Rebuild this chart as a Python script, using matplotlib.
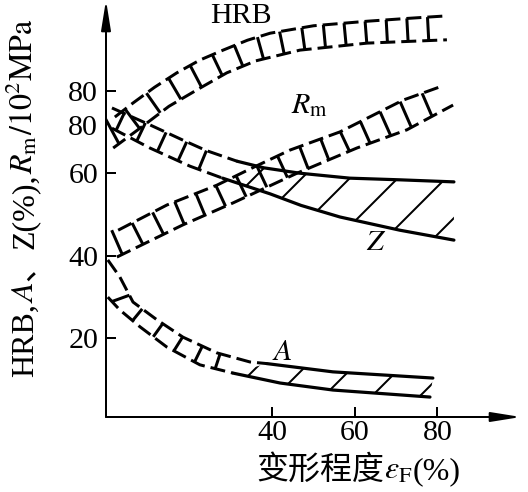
import numpy as np
import matplotlib
matplotlib.use('Agg')
import matplotlib.pyplot as plt

plt.rcParams['font.family'] = ['Liberation Serif', 'Noto Sans CJK SC']
plt.rcParams['mathtext.fontset'] = 'stix'
plt.rcParams['hatch.linewidth'] = 1.0

# band edges (x = deformation %, y = value on left axis)
hrb_up_x = [1.9, 6.3, 11.5, 16.9, 22.5, 28.1, 34.0, 39.5, 50.0, 63.0, 73.0, 82.3]
hrb_up_y = [73.6, 77.0, 80.8, 84.3, 87.4, 89.8, 92.2, 93.9, 95.7, 96.8, 97.5, 98.1]
hrb_lo_x = [1.5, 8.0, 15.0, 22.5, 29.0, 36.0, 46.7, 63.0, 82.3]
hrb_lo_y = [66.1, 70.9, 76.2, 80.6, 84.3, 87.2, 89.8, 91.5, 92.3]

z_up_x = [1.2, 10.4, 18.4, 24.0, 31.5, 38.0, 46.7, 58.8, 70.9, 84.0]
z_up_y = [75.8, 71.7, 68.0, 65.5, 62.9, 61.3, 60.0, 58.8, 58.4, 57.9]
z_lo_x = [1.2, 10.4, 20.1, 28.0, 39.5, 47.0, 56.4, 70.9, 84.0]
z_lo_y = [70.9, 66.1, 61.7, 58.8, 55.0, 52.2, 49.4, 46.2, 43.8]

rm_up_x = [2.7, 14.5, 26.6, 35.0, 44.3, 56.4, 71.7, 80.6]
rm_up_y = [46.2, 52.3, 57.1, 61.2, 65.6, 70.0, 77.7, 80.9]
rm_lo_x = [2.4, 18.4, 30.5, 46.0, 60.5, 72.6, 83.8]
rm_lo_y = [39.7, 47.5, 52.8, 60.0, 66.1, 70.5, 76.5]

a_up_x = [0.2, 3.1, 6.3, 12.1, 18.4, 26.6, 34.6, 38.7, 54.7, 78.9]
a_up_y = [39.0, 34.9, 28.8, 24.5, 20.3, 16.5, 14.3, 13.9, 11.9, 10.4]
a_lo_x = [0.2, 3.1, 8.0, 14.5, 22.5, 30.5, 41.9, 54.7, 78.2]
a_lo_y = [30.0, 26.9, 22.8, 17.9, 13.6, 11.6, 9.2, 7.5, 5.8]

# where the measured (solid) part of a band starts: (upper, lower)
z_solid = (31.5, 28.0)
a_solid = (38.7, 30.5)

x_ticks = [40, 60, 80]
y_ticks = [20, 40, 60, 71.7, 80]
y_ticklabels = ['20', '40', '60', '80', '80']

W, H = 528, 492
fig = plt.figure(figsize=(W / 144, H / 144), dpi=144)
ax = fig.add_axes([106 / W, 75 / H, 415 / W, 417 / H])
ax.set_xlim(-0.24, 100.24)
ax.set_ylim(0.97, 101.94)
for s in ax.spines.values():
    s.set_visible(False)

DASH = (0, (5, 2))


def edge(ax, x, y, solid_from):
    x = np.asarray(x)
    y = np.asarray(y)
    d = x <= solid_from
    ax.plot(x[d], y[d], color='k', lw=1.5, ls=DASH)
    s = x >= solid_from
    if s.sum() > 1:
        ax.plot(x[s], y[s], color='k', lw=1.6, solid_capstyle='round')


def rungs(ax, ux, uy, lx, ly, x0, x1, step=5.0):
    for x in np.arange(x0, x1 + 0.01, step):
        yl = np.interp(x, lx, ly)
        yu = np.interp(x, ux, uy)
        m = (np.interp(x + 1, ux, uy) + np.interp(x + 1, lx, ly)
             - np.interp(x - 1, ux, uy) - np.interp(x - 1, lx, ly)) / 4
        dx = -(yu - yl) * m / (1 + m * m)
        ax.plot([x, x + dx], [yl, np.interp(x + dx, ux, uy)],
                color='k', lw=1.5, solid_capstyle='butt')


def band(ax, ux, uy, lx, ly, solid=(np.inf, np.inf)):
    edge(ax, ux, uy, solid[0])
    edge(ax, lx, ly, solid[1])
    x0 = max(ux[0], lx[0]) + 1.0
    x1 = min(min(ux[-1], lx[-1]), min(solid) - 2)
    rungs(ax, ux, uy, lx, ly, x0, x1)
    if np.isfinite(solid[0]):
        sux = [v for v in ux if v >= solid[0]]
        suy = [b for v, b in zip(ux, uy) if v >= solid[0]]
        slx = [v for v in lx if v >= solid[1]]
        sly = [b for v, b in zip(lx, ly) if v >= solid[1]]
        ax.fill(sux + slx[::-1], suy + sly[::-1], facecolor='none',
                edgecolor='k', hatch='/', lw=0)


band(ax, hrb_up_x, hrb_up_y, hrb_lo_x, hrb_lo_y)
band(ax, rm_up_x, rm_up_y, rm_lo_x, rm_lo_y)
band(ax, z_up_x, z_up_y, z_lo_x, z_lo_y, z_solid)
band(ax, a_up_x, a_up_y, a_lo_x, a_lo_y, a_solid)

# curve names
ax.text(24.9, 96.4, 'HRB', fontsize=15, ha='left', va='baseline')
ax.text(44.6, 74.6, r'$R_{\mathrm{m}}$', fontsize=15, ha='left', va='baseline')
ax.text(62.7, 41.4, r'$Z$', fontsize=15, ha='left', va='baseline')
ax.text(40.0, 14.8, r'$A$', fontsize=15, ha='left', va='baseline')

# axes with arrows
arrow = dict(arrowstyle='-|>,head_length=1.25,head_width=0.2', color='k',
             lw=1.0, shrinkA=0, shrinkB=0)
ax.annotate('', xy=(0, 1), xytext=(0, 0), xycoords='axes fraction',
            arrowprops=arrow, annotation_clip=False)
ax.annotate('', xy=(1, 0), xytext=(0, 0), xycoords='axes fraction',
            arrowprops=arrow, annotation_clip=False)

ax.set_xticks(x_ticks, [str(v) for v in x_ticks])
ax.set_yticks(y_ticks, y_ticklabels)
ax.tick_params(direction='in', length=5, width=1, labelsize=15)
ax.tick_params(axis='y', pad=4)
ax.tick_params(axis='x', pad=1.5)
ax.yaxis.get_major_ticks()[3].tick1line.set_visible(False)

# axis titles built piece by piece (CJK + math)
renderer = fig.canvas.get_renderer()


def write_row(pieces, x, y, rot, size):
    for s, fam in pieces:
        t = fig.text(x / W, y / H, s, fontsize=size, family=fam,
                     rotation=rot, rotation_mode='anchor',
                     ha='left', va='baseline')
        bb = t.get_window_extent(renderer)
        if rot:
            y += bb.height
        else:
            x += bb.width


serif = ['Liberation Serif']
cjk = ['Noto Sans CJK SC']
write_row([('HRB,', serif), (r'$A$', serif), ('、', cjk), ('Z(%),', serif),
           (r'$R_{\mathrm{m}}$', serif), (r'$\mathrm{/10^{2}MPa}$', serif)],
          33, H - 377, 90, 16)
write_row([('变形程度', cjk), (r'$\varepsilon_{\mathrm{F}}$', serif),
           ('(%)', serif)],
          256, H - 479, 0, 16)

fig.savefig('out.png', dpi=144)
